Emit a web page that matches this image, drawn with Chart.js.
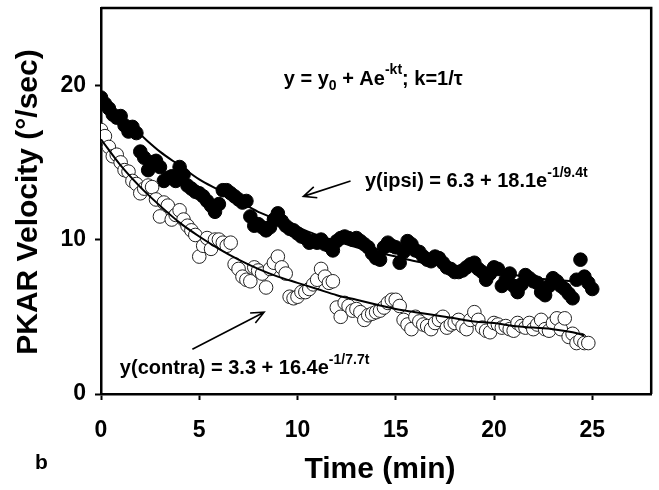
<!DOCTYPE html>
<html>
<head>
<meta charset="utf-8">
<script src="https://cdn.jsdelivr.net/npm/chart.js@4.4.1/dist/chart.umd.min.js"></script>
<style>
  html, body { margin: 0; padding: 0; background: #fff; }
  #wrap { width: 659px; height: 490px; position: relative; }
</style>
</head>
<body>
<div id="wrap"><canvas id="chart"></canvas></div>
<script>
// --- DATA ---
const sampleTimes = [
  0, 0.2, 0.4, 0.6, 0.8, 1, 1.2, 1.4, 1.6, 1.8, 2, 2.2, 2.4, 2.6, 2.8, 3, 3.2, 3.4, 3.6, 3.8,
  4, 4.2, 4.4, 4.6, 4.8, 5, 5.2, 5.4, 5.6, 5.8, 6, 6.2, 6.4, 6.6, 6.8, 7, 7.2, 7.4, 7.6, 7.8,
  8, 8.2, 8.4, 8.6, 8.8, 9, 9.2, 9.4, 9.6, 9.8, 10, 10.2, 10.4, 10.6, 10.8, 11, 11.2, 11.4, 11.6, 11.8,
  12, 12.2, 12.4, 12.6, 12.8, 13, 13.2, 13.4, 13.6, 13.8, 14, 14.2, 14.4, 14.6, 14.8, 15, 15.2, 15.4, 15.6, 15.8,
  16, 16.2, 16.4, 16.6, 16.8, 17, 17.2, 17.4, 17.6, 17.8, 18, 18.2, 18.4, 18.6, 18.8, 19, 19.2, 19.4, 19.6, 19.8,
  20, 20.2, 20.4, 20.6, 20.8, 21, 21.2, 21.4, 21.6, 21.8, 22, 22.2, 22.4, 22.6, 22.8, 23, 23.2, 23.4, 23.6, 23.8,
  24, 24.2, 24.4, 24.6, 24.8, 25
];

// ipsilateral (filled circles), °/sec
const ipsiVelocity = [
  19.2, 18.8, 18.5, 18.1, 17.9, 18.0, 17.4, 17.0, 17.3, 16.9, 15.7, 15.3, 14.5, 15.0, 15.1, 14.7, 13.8, 14.0, 14.1, 13.8,
  14.7, 14.2, 13.5, 13.3, 13.1, 13.0, 12.8, 12.5, 12.2, 11.8, 12.3, 13.2, 13.2, 13.0, 12.8, 12.6, 12.4, 12.5, 11.5, 10.9,
  11.0, 10.8, 10.6, 10.8, 11.3, 11.7, 11.2, 10.9, 10.7, 10.6, 10.4, 10.2, 10.1, 9.8, 9.9, 9.8, 10.0, 9.7, 9.6, 9.3,
  9.9, 10.1, 10.2, 10.1, 10.0, 10.1, 9.9, 9.7, 9.5, 9.1, 8.8, 8.7, 9.5, 9.8, 9.6, 9.5, 8.5, 9.2, 9.9, 9.7,
  9.3, 9.2, 8.9, 8.7, 8.6, 8.9, 8.8, 8.5, 8.2, 8.1, 7.9, 7.9, 8.0, 8.2, 8.4, 8.5, 8.1, 7.9, 7.4, 7.8,
  8.2, 8.1, 7.0, 7.4, 7.8, 7.0, 6.6, 7.1, 7.7, 7.5, 7.3, 7.2, 6.6, 6.4, 7.0, 7.5, 7.3, 7.0, 6.8, 6.5,
  6.2, 7.4, 8.7, 7.6, 7.2, 6.8
];

// contralateral (open circles), °/sec — ends at 24.8 min
const contraVelocity = [
  17.1, 16.7, 16.0, 15.4, 15.5, 15.0, 14.5, 14.4, 13.8, 13.6, 13.0, 13.3, 13.5, 13.4, 12.6, 11.5, 12.4, 12.2, 11.3, 11.6,
  11.9, 11.3, 10.9, 10.6, 10.3, 8.9, 9.6, 10.1, 9.4, 10.0, 10.0, 9.8, 9.6, 9.8, 8.4, 8.1, 7.6, 7.4, 7.3, 8.2,
  8.0, 7.8, 6.9, 8.1, 8.5, 8.9, 8.2, 7.8, 6.3, 6.2, 6.3, 6.6, 6.6, 6.8, 7.1, 7.4, 8.1, 7.6, 7.2, 7.3,
  5.6, 5.0, 5.9, 5.7, 5.4, 5.5, 5.3, 4.8, 5.1, 5.2, 5.3, 5.4, 5.6, 5.9, 6.1, 6.1, 5.7, 4.8, 4.5, 4.2,
  5.0, 4.7, 4.5, 4.4, 4.2, 4.6, 4.8, 5.0, 4.3, 4.5, 4.6, 4.8, 4.4, 4.2, 4.8, 5.3, 4.8, 4.3, 4.1, 4.0,
  4.6, 4.5, 4.3, 4.4, 4.2, 4.1, 4.6, 4.4, 4.3, 4.6, 4.2, 4.5, 4.8, 4.2, 4.1, 4.6, 4.9, 4.2, 4.9, 3.7,
  3.9, 3.3, 3.5, 3.3, 3.3
];

// fitted exponential curves
const ipsiFitTimes = [0, 1, 2, 3, 4, 5, 6, 7, 8, 9, 10, 11, 12, 13, 14, 15, 16, 17, 18, 19, 20, 21, 22, 23, 24, 25];
const ipsiFitValues = [19.2, 17.9, 16.8, 15.7, 14.8, 13.9, 13.2, 12.5, 11.8, 11.3, 10.8, 10.3, 9.9, 9.5, 9.2, 8.9, 8.6, 8.4, 8.2, 8.0, 7.8, 7.7, 7.5, 7.4, 7.3, 7.2];
const contraFitTimes = [0, 1, 2, 3, 4, 5, 6, 7, 8, 9, 10, 11, 12, 13, 14, 15, 16, 17, 18, 19, 20, 21, 22, 23, 24, 24.6];
const contraFitValues = [16.5, 14.8, 13.4, 12.2, 11.1, 10.2, 9.4, 8.7, 8.1, 7.6, 7.2, 6.8, 6.4, 6.1, 5.8, 5.5, 5.3, 5.1, 4.9, 4.7, 4.6, 4.4, 4.3, 4.2, 4.0, 3.8];

const xTicks = [0, 5, 10, 15, 20, 25];
const yTicks = [0, 10, 20];

// --- HELPERS ---
const FONT = "'Liberation Sans', Arial, Helvetica, sans-serif";

function toPoints(xs, ys) {
  return ys.map((y, i) => ({ x: xs[i], y: y }));
}

// text with super/subscripts, parts = [{t, s}] where s is 'sup', 'sub' or undefined
function drawRich(ctx, x, y, parts, size) {
  let cx = x;
  parts.forEach(p => {
    const fs = p.s ? Math.round(size * 0.72) : size;
    ctx.font = `bold ${fs}px ${FONT}`;
    let dy = 0;
    if (p.s === 'sup') dy = -size * 0.42;
    if (p.s === 'sub') dy = size * 0.38;
    ctx.fillText(p.t, cx, y + dy);
    cx += ctx.measureText(p.t).width;
  });
}

function drawArrow(ctx, x1, y1, x2, y2) {
  const ang = Math.atan2(y2 - y1, x2 - x1);
  const head = 14, spread = 0.42;
  ctx.beginPath();
  ctx.moveTo(x1, y1);
  ctx.lineTo(x2, y2);
  ctx.moveTo(x2 - head * Math.cos(ang - spread), y2 - head * Math.sin(ang - spread));
  ctx.lineTo(x2, y2);
  ctx.lineTo(x2 - head * Math.cos(ang + spread), y2 - head * Math.sin(ang + spread));
  ctx.stroke();
}

// frame, equations, arrows and axis titles
const decorations = {
  id: 'decorations',
  afterDraw(chart) {
    const { ctx, chartArea: a, scales } = chart;
    const px = v => scales.x.getPixelForValue(v);
    const py = v => scales.y.getPixelForValue(v);
    ctx.save();
    ctx.strokeStyle = '#000';
    ctx.fillStyle = '#000';

    // top and right of the box
    ctx.lineWidth = 2.5;
    ctx.beginPath();
    ctx.moveTo(a.left, a.top);
    ctx.lineTo(a.right, a.top);
    ctx.lineTo(a.right, a.bottom);
    ctx.stroke();

    ctx.textBaseline = 'middle';
    ctx.textAlign = 'left';
    drawRich(ctx, px(9.3), py(20.4), [
      { t: 'y = y' }, { t: '0', s: 'sub' }, { t: ' + Ae' }, { t: '-kt', s: 'sup' }, { t: '; k=1/τ' }
    ], 20);
    drawRich(ctx, px(13.43), py(13.75), [
      { t: 'y(ipsi) = 6.3 + 18.1e' }, { t: '-1/9.4t', s: 'sup' }
    ], 20);
    drawRich(ctx, px(0.96), py(1.65), [
      { t: 'y(contra) = 3.3 + 16.4e' }, { t: '-1/7.7t', s: 'sup' }
    ], 20);

    ctx.lineWidth = 1.6;
    drawArrow(ctx, px(12.7), py(13.8), px(10.3), py(12.8));
    drawArrow(ctx, px(4.65), py(2.9), px(8.3), py(5.3));

    // panel letter and axis titles
    ctx.font = `bold 21px ${FONT}`;
    ctx.fillText('b', 35, 463);
    ctx.textAlign = 'center';
    ctx.font = `bold 30px ${FONT}`;
    ctx.fillText('Time (min)', 380, 470);
    ctx.translate(29, 202);
    ctx.rotate(-Math.PI / 2);
    ctx.fillText('PKAR Velocity (°/sec)', 0, 0);
    ctx.restore();
  }
};

function noScalePadding(scale) {
  scale.paddingTop = 0;
  scale.paddingBottom = 0;
  scale.paddingLeft = 0;
  scale.paddingRight = 0;
}

// --- CHART ---
const ctx = document.getElementById('chart').getContext('2d');
new Chart(ctx, {
  type: 'scatter',
  data: {
    datasets: [
      {
        label: 'fit contra',
        data: toPoints(contraFitTimes, contraFitValues),
        showLine: true,
        borderColor: '#000',
        borderWidth: 2,
        pointRadius: 0,
        cubicInterpolationMode: 'monotone'
      },
      {
        label: 'fit ipsi',
        data: toPoints(ipsiFitTimes, ipsiFitValues),
        showLine: true,
        borderColor: '#000',
        borderWidth: 2,
        pointRadius: 0,
        cubicInterpolationMode: 'monotone'
      },
      {
        label: 'contra',
        data: toPoints(sampleTimes, contraVelocity),
        pointRadius: 6.8,
        pointBackgroundColor: '#fff',
        pointBorderColor: '#222',
        pointBorderWidth: 1
      },
      {
        label: 'ipsi',
        data: toPoints(sampleTimes, ipsiVelocity),
        pointRadius: 6.8,
        pointBackgroundColor: '#000',
        pointBorderColor: '#000',
        pointBorderWidth: 1
      }
    ]
  },
  options: {
    responsive: true,
    maintainAspectRatio: false,
    animation: false,
    layout: { padding: { top: 8, right: 1, left: 0, bottom: 0 } },
    plugins: {
      legend: { display: false },
      tooltip: { enabled: false }
    },
    scales: {
      x: {
        type: 'linear',
        min: 0,
        max: 28,
        afterBuildTicks: scale => { scale.ticks = xTicks.map(v => ({ value: v })); },
        afterFit: scale => { scale.height = 96; noScalePadding(scale); },
        grid: { drawOnChartArea: false, tickLength: 6, tickColor: '#000', tickWidth: 2 },
        border: { display: true, color: '#000', width: 2.5 },
        ticks: { color: '#000', padding: 17, font: { family: FONT, size: 23, weight: 'bold' } }
      },
      y: {
        type: 'linear',
        min: 0,
        max: 25,
        afterBuildTicks: scale => { scale.ticks = yTicks.map(v => ({ value: v })); },
        afterFit: scale => { scale.width = 101; noScalePadding(scale); },
        grid: { drawOnChartArea: false, tickLength: 6, tickColor: '#000', tickWidth: 2 },
        border: { display: true, color: '#000', width: 2.5 },
        ticks: { color: '#000', padding: 9, font: { family: FONT, size: 23, weight: 'bold' } }
      }
    }
  },
  plugins: [decorations]
});
</script>
</body>
</html>
